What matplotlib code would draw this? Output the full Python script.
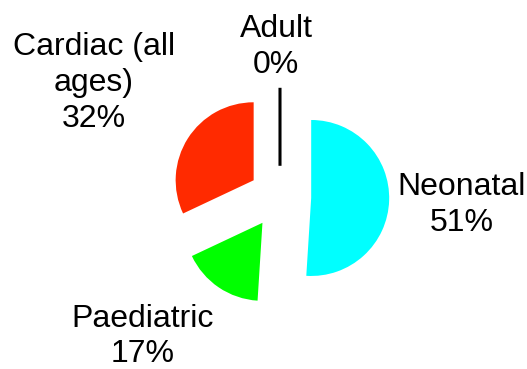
import matplotlib
matplotlib.use("Agg")
import matplotlib.pyplot as plt

# Share of cases by patient group
categories = ["Neonatal", "Paediatric", "Cardiac (all\nages)", "Adult"]
shares = [51, 17, 32, 0]
slice_colors = ["#00FFFF", "#00FF00", "#FF2A00", "#000000"]

plt.rcParams["font.family"] = ["Liberation Sans", "DejaVu Sans"]

W, H, DPI = 527, 369, 100
fig = plt.figure(figsize=(W / DPI, H / DPI), dpi=DPI)
ax = fig.add_axes([0, 0, 1, 1])

wedges, _ = ax.pie(
    shares,
    colors=slice_colors,
    explode=[0.4] * len(shares),
    startangle=90,
    counterclock=False,
    radius=1.0,
    wedgeprops=dict(linewidth=0),
)
# the empty Adult slice shows as a single black spoke
wedges[-1].set_edgecolor("black")
wedges[-1].set_linewidth(2.2)

# pie centre sits at pixel (280, 197); one data unit = 78 px
scale, cx, cy = 78.0, 280.0, 197.0
ax.set_xlim(-cx / scale, (W - cx) / scale)
ax.set_ylim((cy - H) / scale, cy / scale)
ax.set_aspect("equal")
ax.axis("off")

# label blocks, in data units around the pie centre
label_pos = [(2.33, -0.10), (-1.756, -1.79), (-2.385, 1.46), (-0.05, 1.92)]
for name, val, (x, y) in zip(categories, shares, label_pos):
    ax.text(x, y, f"{name}\n{val}%", ha="center", va="center",
            fontsize=23, linespacing=1.25, color="black")

fig.savefig("out.png", dpi=DPI)
